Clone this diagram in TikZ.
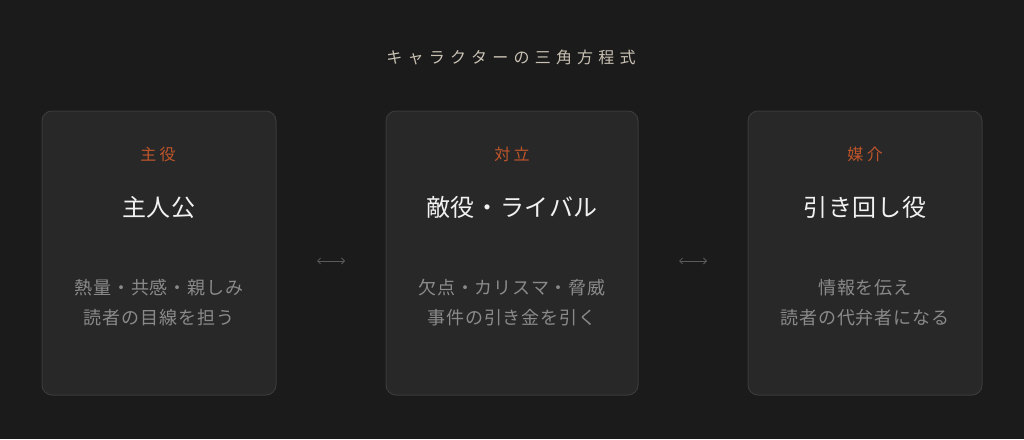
\documentclass[tikz,border=0pt]{standalone}
\usepackage{fontspec}
\setmainfont{Noto Sans CJK JP}
\newfontfamily\hdfont[LetterSpace=3]{Noto Sans CJK JP}
\newfontfamily\dscfont[LetterSpace=5]{Noto Sans CJK JP}
\usetikzlibrary{arrows.meta}
\makeatletter
\def\lspaced#1#2{\def\lsp@k{#1}\lsp@a#2\relax\kern-#1}
\def\lsp@a#1{\ifx#1\relax\else#1\kern\lsp@k\expandafter\lsp@a\fi}
\makeatother
\definecolor{bg}{HTML}{1B1B1B}
\definecolor{cardfill}{HTML}{282828}
\definecolor{cardline}{HTML}{3A3A3A}
\definecolor{accent}{HTML}{C0552A}
\definecolor{head}{HTML}{F2F2F2}
\definecolor{desc}{HTML}{8A8A8A}
\definecolor{ttl}{HTML}{C9C2B4}
\definecolor{arr}{HTML}{5A5A5A}
\tikzset{
  card/.style={draw=cardline, fill=cardfill, line width=1pt, rounded corners=10pt},
  lbl/.style={text=accent, font=\fontsize{16}{18}\selectfont, inner sep=0pt},
  hd/.style={text=head, font=\hdfont\fontsize{24}{28}\selectfont, inner sep=0pt},
  dsc/.style={text=desc, font=\dscfont\fontsize{18}{30}\selectfont, align=center, inner sep=0pt},
  link/.style={draw=arr, line width=0.8pt, {Straight Barb[length=3pt,width=6pt]}-{Straight Barb[length=3pt,width=6pt]}}
}
\begin{document}
\begin{tikzpicture}[x=1pt,y=-1pt]
\fill[bg] (0,0) rectangle (1024,439);
\useasboundingbox (0,0) rectangle (1024,439);
\node[text=ttl, font=\fontsize{16}{18}\selectfont, inner sep=0pt] (title) at (511,57) {\lspaced{5.2pt}{キャラクターの三角方程式}};
% cards
\draw[card] (42,111) rectangle (276,395);
\node (c1) at (159,253) {};
\draw[card] (386,111) rectangle (638,395);
\node (c2) at (512,253) {};
\draw[card] (748,111) rectangle (982,395);
\node (c3) at (865,253) {};
% card 1
\node[lbl] (l1) at (158,154) {\lspaced{3.5pt}{主役}};
\node[hd] (h1) at (159,207) {主人公};
\node[dsc] (d1) at (159,303) {熱量・共感・親しみ\\読者の目線を担う};
% card 2
\node[lbl] (l2) at (512,154) {\lspaced{3.5pt}{対立}};
\node[hd] (h2) at (512,207) {敵役・ライバル};
\node[dsc] (d2) at (512,303) {欠点・カリスマ・脅威\\事件の引き金を引く};
% card 3
\node[lbl] (l3) at (865,154) {\lspaced{3.5pt}{媒介}};
\node[hd] (h3) at (865,207) {引き回し役};
\node[dsc] (d3) at (865,303) {情報を伝え\\読者の代弁者になる};
% connectors
\coordinate (a1s) at (317,261);
\coordinate (a1e) at (345,261);
\coordinate (a2s) at (679,261);
\coordinate (a2e) at (707,261);
\draw[link] (a1s) -- (a1e);
\draw[link] (a2s) -- (a2e);
\end{tikzpicture}
\end{document}
